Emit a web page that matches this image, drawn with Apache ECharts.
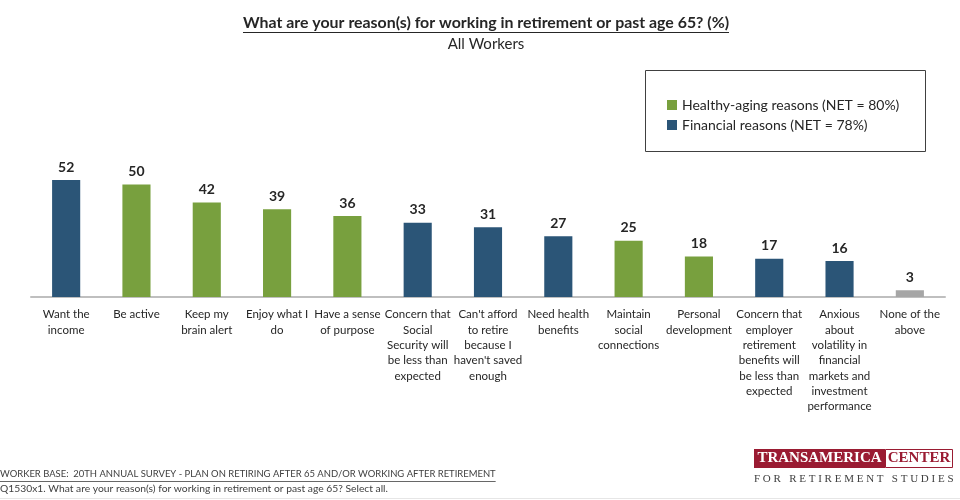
<!DOCTYPE html>
<html>
<head>
<meta charset="utf-8">
<script src="https://cdn.jsdelivr.net/npm/echarts@6/dist/echarts.min.js"></script>
<style>html,body{margin:0;padding:0;background:#fff}#c{width:960px;height:500px}</style>
</head>
<body>
<div id="c"></div>
<script>
const categories = [
  "Want the\nincome", "Be active", "Keep my\nbrain alert", "Enjoy what I\ndo",
  "Have a sense\nof purpose", "Concern that\nSocial\nSecurity will\nbe less than\nexpected",
  "Can't afford\nto retire\nbecause I\nhaven't saved\nenough", "Need health\nbenefits",
  "Maintain\nsocial\nconnections", "Personal\ndevelopment",
  "Concern that\nemployer\nretirement\nbenefits will\nbe less than\nexpected",
  "Anxious\nabout\nvolatility in\nfinancial\nmarkets and\ninvestment\nperformance",
  "None of the\nabove"
];
const healthyValues   = ['-', 50, 42, 39, 36, '-', '-', '-', 25, 18, '-', '-', '-'];
const financialValues = [52, '-', '-', '-', '-', 33, 31, 27, '-', '-', 17, 16, '-'];
const noneValues      = ['-', '-', '-', '-', '-', '-', '-', '-', '-', '-', '-', '-', 3];
const seriesNames = ["Healthy-aging reasons (NET = 80%)", "Financial reasons (NET = 78%)", "None of the above"];

const titleText = "What are your reason(s) for working in retirement or past age 65? (%)";
const subtitleText = "All Workers";
const foot1 = "WORKER BASE:  20TH ANNUAL SURVEY - PLAN ON RETIRING AFTER 65 AND/OR WORKING AFTER RETIREMENT";
const foot2 = "Q1530x1. What are your reason(s) for working in retirement or past age 65? Select all.";

const FF = "Lato, 'Open Sans', sans-serif";
const mctx = document.createElement('canvas').getContext('2d');
function tw(text, font) { mctx.font = font; return mctx.measureText(text).width; }

const titleFont = "bold 15.9px Lato";
const titleW = tw(titleText, titleFont);
const foot1Font = "9.45px Lato";
const foot2Font = "10.3px Lato";
const foot1W = tw(foot1, foot1Font);
const titleCX = 486;

const chart = echarts.init(document.getElementById('c'));
const labelCfg = {show: true, position: 'top', distance: 6, fontFamily: FF, fontWeight: 'bold', fontSize: 14, color: '#262626'};
chart.setOption({
  animation: false,
  grid: {left: 31, right: 15, top: 162, bottom: 203, containLabel: false},
  xAxis: {
    type: 'category', data: categories,
    axisLine: {lineStyle: {color: '#bfbfbf', width: 2}},
    axisTick: {show: false},
    axisLabel: {interval: 0, fontFamily: FF, fontSize: 11.5, color: '#262626', lineHeight: 15.3, margin: 10}
  },
  yAxis: {type: 'value', min: 0, max: 60, show: false, splitLine: {show: false}},
  legend: {
    data: [seriesNames[0], seriesNames[1]], orient: 'vertical', left: 662, top: 93,
    itemWidth: 10, itemHeight: 10, itemGap: 6, icon: 'rect',
    textStyle: {fontFamily: FF, fontSize: 14, color: '#262626'}
  },
  series: [
    {name: seriesNames[0], type: 'bar', stack: 'all', data: healthyValues, barWidth: '40%', itemStyle: {color: '#78a03e'}, label: labelCfg},
    {name: seriesNames[1], type: 'bar', stack: 'all', data: financialValues, barWidth: '40%', itemStyle: {color: '#2b5577'}, label: labelCfg},
    {name: seriesNames[2], type: 'bar', stack: 'all', data: noneValues, barWidth: '40%', itemStyle: {color: '#a6a6a6'}, label: labelCfg}
  ],
  graphic: [
    {type: 'text', x: titleCX, y: 23, style: {text: titleText, font: titleFont, fill: '#262626', align: 'center', verticalAlign: 'middle'}},
    {type: 'line', shape: {x1: titleCX - titleW / 2, y1: 32.5, x2: titleCX + titleW / 2, y2: 32.5}, style: {stroke: '#262626', lineWidth: 1}},
    {type: 'text', x: titleCX, y: 44, style: {text: subtitleText, font: "15px Lato", fill: '#262626', align: 'center', verticalAlign: 'middle'}},
    {type: 'rect', shape: {x: 645.5, y: 70.5, width: 280, height: 81}, style: {fill: 'none', stroke: '#404040', lineWidth: 1}},
    {type: 'text', x: 0, y: 469, style: {text: foot1, font: foot1Font, fill: '#404040'}},
    {type: 'line', shape: {x1: 0, y1: 481.5, x2: foot1W, y2: 481.5}, style: {stroke: '#404040', lineWidth: 0.8}},
    {type: 'text', x: 0, y: 484, style: {text: foot2, font: foot2Font, fill: '#404040'}},
    {type: 'line', shape: {x1: 0, y1: 498.5, x2: 960, y2: 498.5}, style: {stroke: '#e6e6e6', lineWidth: 1}},
    {type: 'rect', shape: {x: 754, y: 449, width: 131, height: 19}, style: {fill: '#9a1b32'}},
    {type: 'text', x: 819.5, y: 458.5, style: {text: 'TRANSAMERICA', font: "bold 15px 'Liberation Serif', serif", fill: '#fff', align: 'center', verticalAlign: 'middle'}},
    {type: 'rect', shape: {x: 885.5, y: 449.5, width: 67, height: 18}, style: {fill: '#fff', stroke: '#9a1b32', lineWidth: 1}},
    {type: 'text', x: 919, y: 458.5, style: {text: 'CENTER', font: "bold 15px 'Liberation Serif', serif", fill: '#9a1b32', align: 'center', verticalAlign: 'middle'}},
    {type: 'text', x: 754, y: 479, style: {text: 'F O R   R E T I R E M E N T   S T U D I E S', font: "11px 'Liberation Serif', serif", fill: '#404040', verticalAlign: 'middle'}}
  ]
});
</script>
</body>
</html>
